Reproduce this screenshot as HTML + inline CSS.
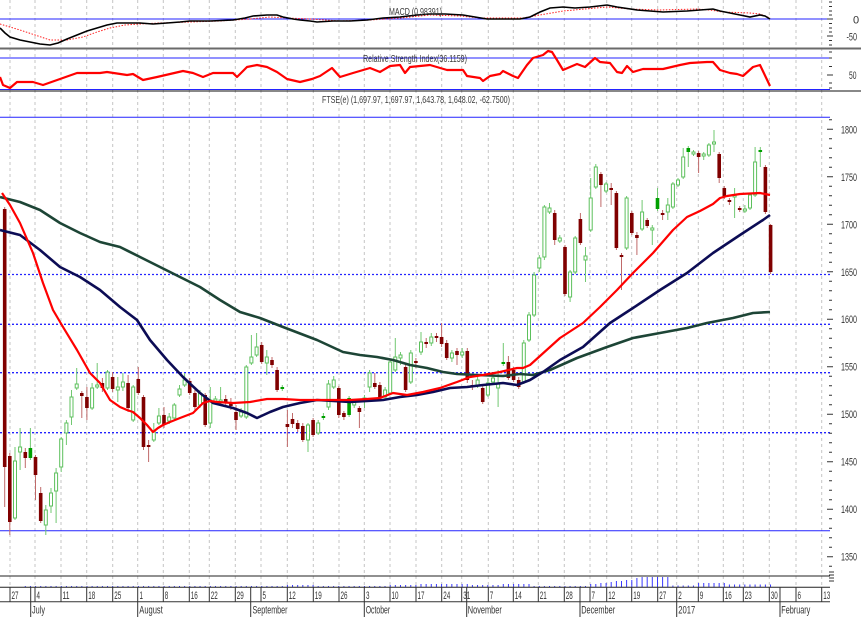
<!DOCTYPE html>
<html><head><meta charset="utf-8"><style>
html,body{margin:0;padding:0;background:#fff;}
svg{display:block;font-family:"Liberation Sans",sans-serif;}
</style></head><body>
<svg width="861" height="617" viewBox="0 0 861 617" xmlns="http://www.w3.org/2000/svg">
<rect width="861" height="617" fill="#fff"/>
<!-- vertical gridlines -->
<g stroke="#c4c4c4" stroke-width="1" stroke-dasharray="3 3">
<path d="M10 0V587M35 0V587M61 0V587M86.7 0V587M112.7 0V587M137.7 0V587M163.3 0V587M189.3 0V587M209.3 0V587M235.3 0V587M261 0V587M287.3 0V587M313.3 0V587M339 0V587M364.3 0V587M390 0V587M416 0V587M441.7 0V587M461.7 0V587M488.3 0V587M513.3 0V587M538.3 0V587M564.3 0V587M590 0V587M606.7 0V587M631.7 0V587M657.7 0V587M676.7 0V587M698.3 0V587M723.3 0V587M743.3 0V587M769.3 0V587M796 0V587M821.7 0V587"/>
</g>
<!-- MACD panel -->
<line x1="0" y1="19" x2="830" y2="19" stroke="#2323ff" stroke-width="1"/>
<polyline fill="none" stroke="#ff2020" stroke-width="1" stroke-dasharray="1.5 1.5" points="0,24 10,27 20,30 35,35 50,40 67,40 83,37 97,32 110,28 125,25 140,24 160,23 190,22 220,21 250,19 270,17 287,18 310,19 340,21 370,20 400,18 430,15 460,16 480,18 523,18 540,15 563,11 585,9 607,7 630,9 660,10 697,9 710,10 723,12 750,13 760,14 770,18"/>
<polyline fill="none" stroke="#000" stroke-width="1.6" points="0,28 5,33 10,37 20,40 30,42 40,44 50,45 58,43 67,39 77,35 87,31 97,28 107,25 117,23 127,23 140,23 153,24 167,23 180,22 190,21 210,21 233,20 245,18 253,16 267,15 277,15 283,17 293,19 300,20 310,21 317,22 333,21 350,21 367,20 383,18 400,17 417,15 430,14 445,14 463,15 475,17 487,19 500,19 520,19 530,17 540,12 550,8 563,7 575,8 590,7 607,5 617,7 637,10 650,11 663,12 687,11 700,10 713,9 720,11 730,13 740,15 750,17 760,15 765,16 770,19"/>
<text x="389" y="15" font-size="10.5" fill="#3a3a3a" textLength="53" lengthAdjust="spacingAndGlyphs">MACD (0.98391)</text>
<line x1="0" y1="48.5" x2="861" y2="48.5" stroke="#6a6a6a" stroke-width="2"/>
<!-- RSI panel -->
<line x1="0" y1="58" x2="830" y2="58" stroke="#2323ff" stroke-width="1"/>
<line x1="0" y1="89.5" x2="830" y2="89.5" stroke="#2323ff" stroke-width="1"/>
<line x1="0" y1="91" x2="861" y2="91" stroke="#111" stroke-width="1"/>
<polyline fill="none" stroke="#ff0000" stroke-width="2.2" stroke-linejoin="round" points="0,77 3,85 10,88 17,82 33,82 43,85 60,79 77,73 100,73 107,72 127,75 133,74 143,80 157,77 183,71 193,73 203,77 213,73 233,73 237,77 247,67 257,65 267,67 277,72 287,79 300,82 312,79 320,76 332,68 340,77 353,73 370,68 380,72 390,66 400,65 405,73 410,67 420,66 430,65 447,70 463,70 467,76 480,78 483,81 490,76 500,74 503,71 513,76 518,78 527,65 533,58 543,55 548,51 552,52 557,60 563,70 577,64 585,67 595,58 600,62 610,63 617,72 622,73 627,66 633,72 643,69 663,69 680,65 690,63 707,62 713,62 720,70 730,73 737,74 743,76 753,67 760,65 770,86"/>
<text x="363" y="62" font-size="10.5" fill="#3a3a3a" textLength="104" lengthAdjust="spacingAndGlyphs">Relative Strength Index(36.1159)</text>
<!-- Price panel -->
<text x="322" y="103" font-size="10.5" fill="#3a3a3a" textLength="188" lengthAdjust="spacingAndGlyphs">FTSE(e) (1,697.97, 1,697.97, 1,643.78, 1,648.02, -62.7500)</text>
<line x1="0" y1="117.3" x2="830" y2="117.3" stroke="#2323ff" stroke-width="1"/>
<line x1="0" y1="530.7" x2="830" y2="530.7" stroke="#2323ff" stroke-width="1"/>
<g stroke="#2323ff" stroke-width="1.3" stroke-dasharray="2 2">
<line x1="0" y1="274.5" x2="830" y2="274.5"/>
<line x1="0" y1="324.3" x2="830" y2="324.3"/>
<line x1="0" y1="372.7" x2="830" y2="372.7"/>
<line x1="0" y1="432.7" x2="830" y2="432.7"/>
</g>
<!-- wicks -->
<path fill="none" stroke="#c06a6a" stroke-width="1" d="M4.7 207V507M9.8 453V535M25.3 448V468M35.5 455V500M40.7 487V523M81.8 391V418M86.9 387V420M102.4 378V392M112.6 372V392M128.1 375V412M138.3 367V395M143.5 395V450M148.6 440V462M164 407V428M189.7 378V395M194.9 390V410M205.2 393V427M225.7 395V406M230.9 398V410M236 405V430M261.7 342V364M272 357V368M277.1 367V392M287.4 410V447M292.5 413V428M297.7 420V432M302.8 423V442M313.1 418V437M338.8 386V418M343.9 411V420M359.4 406V428M374.8 373V389M379.9 382V400M405.6 365V392M415.9 358V368M426.2 338V348M436.5 333V342M441.6 323V347M446.7 340V360M457 348V365M467.3 348V383M472.4 380V390M482.7 385V404M508.4 356V380M513.6 367V382M518.7 377V389M554.7 210V245M565 245V296M580.4 213V245M600.9 172V207M611.2 183V205M616.4 191V250M621.5 253V290M631.8 211V235M636.9 232V255M647.2 218V228M662.6 210V220M698.6 151V173M719.2 152V183M724.3 186V199M729.4 198V205M739.7 206V212M765.4 165V214M770.6 224V274"/>
<path fill="none" stroke="#72c872" stroke-width="1" d="M15 447V520M20.1 428V470M30.4 428V460M45.8 505V535M51 488V513M56.1 468V523M61.2 437V472M66.4 420V445M71.5 390V425M76.7 368V390M92.1 383V410M97.2 363V389M107.5 370V390M117.8 377V402M122.9 373V391M133.2 385V422M153.8 423V442M158.9 408V425M169.2 413V424M174.3 403V420M179.5 385V397M184.6 373V387M200 390V408M210.3 387V428M215.4 396V404M220.6 387V405M241.1 408V418M246.3 365V419M251.4 335V365M256.6 333V357M266.8 350V375M282.3 385V391M308 423V452M318.2 420V435M323.4 413V420M328.5 380V410M333.7 376V389M349.1 396V417M354.2 399V408M364.5 395V408M369.6 370V392M385.1 387V399M390.2 360V395M395.3 338V372M400.5 352V365M410.8 350V384M421 332V355M431.3 333V346M451.9 350V362M462.2 348V358M477.6 377V388M487.9 378V397M493 375V385M498.1 370V407M503.3 343V366M523.8 340V384M529 312V342M534.1 272V317M539.3 255V272M544.4 205V260M549.5 203V214M559.8 235V243M570.1 270V302M575.2 236V274M585.5 247V282M590.7 178V232M595.8 164V189M606.1 182V193M626.6 196V250M642.1 200V231M652.3 225V245M657.5 188V211M667.8 198V220M672.9 182V209M678 178V187M683.2 148V179M688.3 146V167M693.5 150V156M703.7 152V160M708.9 143V157M714 130V152M734.6 188V218M744.9 205V213M750 193V210M755.1 147V197M760.3 147V167"/>
<!-- red bodies -->
<path fill="#800000" d="M2.9 209h3.6V467h-3.6zM8 456h3.6V522h-3.6zM23.5 452h3.6V458h-3.6zM33.7 457h3.6V475h-3.6zM38.9 493h3.6V521h-3.6zM80 393h3.6V396h-3.6zM85.1 397h3.6V408h-3.6zM100.6 383h3.6V388h-3.6zM110.8 377h3.6V389h-3.6zM126.3 383h3.6V408h-3.6zM136.5 379h3.6V393h-3.6zM141.7 397h3.6V447h-3.6zM146.8 445h3.6V447h-3.6zM162.2 415h3.6V425h-3.6zM187.9 381h3.6V393h-3.6zM193.1 393h3.6V407h-3.6zM203.4 395h3.6V425h-3.6zM223.9 399h3.6V403h-3.6zM229.1 402h3.6V406h-3.6zM234.2 412h3.6V420h-3.6zM259.9 345h3.6V362h-3.6zM270.2 360h3.6V365h-3.6zM275.3 370h3.6V390h-3.6zM285.6 424h3.6V427h-3.6zM290.7 419h3.6V424h-3.6zM295.9 423h3.6V429h-3.6zM301 426h3.6V440h-3.6zM311.3 420h3.6V435h-3.6zM337 388h3.6V415h-3.6zM342.1 413h3.6V417h-3.6zM357.6 408h3.6V412h-3.6zM373 383h3.6V387h-3.6zM378.1 385h3.6V397h-3.6zM403.8 367h3.6V390h-3.6zM414.1 361h3.6V363h-3.6zM424.4 342h3.6V344h-3.6zM434.7 336h3.6V338h-3.6zM439.8 337h3.6V344h-3.6zM444.9 343h3.6V358h-3.6zM455.2 351h3.6V355h-3.6zM465.5 351h3.6V380h-3.6zM470.6 385h3.6V387h-3.6zM480.9 388h3.6V402h-3.6zM506.6 362h3.6V378h-3.6zM511.8 370h3.6V380h-3.6zM516.9 380h3.6V387h-3.6zM552.9 213h3.6V240h-3.6zM563.2 247h3.6V294h-3.6zM578.6 219h3.6V243h-3.6zM599.1 174h3.6V185h-3.6zM609.4 188h3.6V190h-3.6zM614.6 193h3.6V248h-3.6zM619.7 255h3.6V257h-3.6zM630 213h3.6V233h-3.6zM635.1 235h3.6V238h-3.6zM645.4 220h3.6V226h-3.6zM660.8 213h3.6V215h-3.6zM696.8 153h3.6V157h-3.6zM717.4 154h3.6V178h-3.6zM722.5 188h3.6V197h-3.6zM727.6 200h3.6V202h-3.6zM737.9 208h3.6V210h-3.6zM763.6 167h3.6V212h-3.6zM768.8 225h3.6V272h-3.6z"/>
<!-- green hollow bodies -->
<path fill="#fff" stroke="#5cc05c" stroke-width="1" d="M13.5 461h3V518h-3zM18.6 447h3V452h-3zM44.3 510h3V525h-3zM49.5 493h3V506h-3zM54.6 473h3V491h-3zM59.7 439h3V467h-3zM64.9 423h3V433h-3zM70 397h3V417h-3zM75.2 384h3V388h-3zM90.6 388h3V408h-3zM95.7 385h3V387h-3zM106 372h3V388h-3zM116.3 387h3V390h-3zM121.4 382h3V387h-3zM131.7 387h3V420h-3zM152.3 432h3V440h-3zM157.4 416h3V423h-3zM167.7 417h3V421h-3zM172.8 405h3V418h-3zM178 389h3V395h-3zM183.1 380h3V385h-3zM198.5 393h3V405h-3zM208.8 400h3V423h-3zM213.9 399h3V402h-3zM219.1 400h3V403h-3zM239.6 412h3V416h-3zM244.8 367h3V417h-3zM249.9 357h3V363h-3zM255.1 347h3V355h-3zM265.3 357h3V363h-3zM306.5 425h3V440h-3zM316.7 423h3V433h-3zM327 384h3V407h-3zM332.2 380h3V387h-3zM352.7 402h3V405h-3zM363 398h3V400h-3zM368.1 373h3V387h-3zM383.6 390h3V397h-3zM388.7 362h3V393h-3zM393.8 357h3V370h-3zM399 355h3V358h-3zM409.3 353h3V382h-3zM419.5 342h3V352h-3zM429.8 337h3V343h-3zM450.4 353h3V358h-3zM460.7 352h3V355h-3zM476.1 380h3V385h-3zM486.4 383h3V395h-3zM491.5 378h3V382h-3zM496.6 383h3V388h-3zM522.3 343h3V382h-3zM527.5 315h3V340h-3zM532.6 275h3V315h-3zM537.8 258h3V268h-3zM542.9 207h3V257h-3zM548 208h3V212h-3zM558.3 238h3V241h-3zM568.6 272h3V297h-3zM573.7 238h3V272h-3zM584 256h3V260h-3zM589.2 198h3V230h-3zM594.3 167h3V187h-3zM604.6 184h3V191h-3zM625.1 198h3V248h-3zM640.6 212h3V229h-3zM650.8 228h3V230h-3zM666.3 205h3V212h-3zM671.4 184h3V207h-3zM676.5 180h3V185h-3zM681.7 157h3V177h-3zM692 152h3V154h-3zM702.2 154h3V156h-3zM707.4 145h3V155h-3zM712.5 142h3V144h-3zM733.1 195h3V197h-3zM743.4 209h3V211h-3zM748.5 195h3V208h-3zM753.6 162h3V195h-3z"/>
<!-- filled green bodies -->
<path fill="#00a000" d="M28.6 448h3.6V458h-3.6zM280.5 387h3.6V389h-3.6zM321.6 416h3.6V418h-3.6zM347.3 398h3.6V415h-3.6zM501.5 362h3.6V364h-3.6zM655.7 198h3.6V209h-3.6zM686.5 148h3.6V152h-3.6zM758.5 150h3.6V152h-3.6z"/>
<!-- moving averages -->
<polyline fill="none" stroke="#1d4536" stroke-width="2.6" stroke-linejoin="round" points="0,197 20,202 40,210 60,223 80,233 100,242 120,247 140,257 160,267 180,277 200,287 220,300 240,312 260,318 283,327 317,340 343,352 360,355 377,357 393,360 410,365 427,368 443,372 457,374 477,375 503,376 520,374 533,375 550,370 577,358 607,347 633,338 660,333 687,328 707,323 733,318 753,313 770,312"/>
<polyline fill="none" stroke="#0c0c55" stroke-width="2.6" stroke-linejoin="round" points="0,230 20,235 40,250 60,267 80,277 100,290 120,307 137,320 150,340 167,360 183,377 200,393 213,403 233,408 247,413 257,418 270,412 283,407 300,403 317,400 350,402 383,400 400,397 417,395 433,392 450,388 467,387 483,385 503,383 517,385 530,380 543,372 560,360 583,347 610,323 633,308 660,290 687,273 713,253 740,235 763,220 770,215"/>
<polyline fill="none" stroke="#ff0000" stroke-width="2.2" stroke-linejoin="round" points="2,193 10,205 20,223 33,253 43,283 53,310 63,327 77,350 90,373 100,383 110,400 120,407 127,410 133,412 140,418 147,425 153,432 158,428 163,425 170,422 180,418 193,413 203,403 210,401 217,402 233,403 250,402 267,399 283,399 300,400 317,400 350,400 367,399 380,398 393,393 407,395 423,392 440,388 457,382 470,377 483,375 500,372 517,368 523,368 530,365 540,356 550,347 560,338 583,323 600,307 617,290 633,273 653,253 673,230 687,217 700,211 713,204 720,198 727,196 740,194 760,193 770,195"/>
<!-- right axis ticks -->
<path fill="none" stroke="#333" stroke-width="1" d="M829 119.8h3M827 129.3h6M829 138.8h3M829 148.3h3M829 157.8h3M829 167.3h3M827 176.8h6M829 186.3h3M829 195.8h3M829 205.3h3M829 214.8h3M827 224.3h6M829 233.7h3M829 243.3h3M829 252.8h3M829 262.3h3M827 271.8h6M829 281.3h3M829 290.7h3M829 300.2h3M829 309.7h3M827 319.2h6M829 328.7h3M829 338.2h3M829 347.7h3M829 357.2h3M827 366.7h6M829 376.2h3M829 385.7h3M829 395.2h3M829 404.7h3M827 414.2h6M829 423.7h3M829 433.2h3M829 442.7h3M829 452.2h3M827 461.7h6M829 471.2h3M829 480.7h3M829 490.2h3M829 499.7h3M827 509.2h6M829 518.7h3M829 528.2h3M829 537.7h3M829 547.2h3M827 556.7h6M829 566.2h3M829 572h5M829 575h5M829 578h5M829 581h5M829 2h3M829 6.5h3M829 11h3M829 15h3M827 19h6M829 23.5h3M829 28h3M829 32h3M827 36h6M829 40.5h3M829 45h3M829 52h3M829 58h3M829 66.5h3M827 75h6M829 83h3M829 88h3"/>
<g font-size="11" fill="#333">
<text x="853" y="23.5">0</text>
<text x="846.5" y="40.5" textLength="10.5" lengthAdjust="spacingAndGlyphs">-50</text>
<text x="849" y="79" textLength="7.5" lengthAdjust="spacingAndGlyphs">50</text>
<text x="841" y="133.3" textLength="16" lengthAdjust="spacingAndGlyphs">1800</text>
<text x="841" y="180.8" textLength="16" lengthAdjust="spacingAndGlyphs">1750</text>
<text x="841" y="228.3" textLength="16" lengthAdjust="spacingAndGlyphs">1700</text>
<text x="841" y="275.8" textLength="16" lengthAdjust="spacingAndGlyphs">1650</text>
<text x="841" y="323.2" textLength="16" lengthAdjust="spacingAndGlyphs">1600</text>
<text x="841" y="370.7" textLength="16" lengthAdjust="spacingAndGlyphs">1550</text>
<text x="841" y="418.2" textLength="16" lengthAdjust="spacingAndGlyphs">1500</text>
<text x="841" y="465.7" textLength="16" lengthAdjust="spacingAndGlyphs">1450</text>
<text x="841" y="513.2" textLength="16" lengthAdjust="spacingAndGlyphs">1400</text>
<text x="841" y="560.7" textLength="16" lengthAdjust="spacingAndGlyphs">1350</text>
</g>
<!-- volume bars -->
<g stroke="#3a3aff" fill="none">
<line x1="24.8" y1="586.5" x2="282.8" y2="586.5" stroke-width="1" stroke-dasharray="1 4.14"/>
<line x1="286.9" y1="586" x2="313.6" y2="586" stroke-width="2" stroke-dasharray="1 4.14"/>
<line x1="317.7" y1="586.5" x2="385.6" y2="586.5" stroke-width="1" stroke-dasharray="1 4.14"/>
<line x1="389.7" y1="586" x2="416.4" y2="586" stroke-width="2" stroke-dasharray="1 4.14"/>
<line x1="420.5" y1="585.5" x2="467.8" y2="585.5" stroke-width="3" stroke-dasharray="1 4.14"/>
<line x1="471.9" y1="586" x2="498.6" y2="586" stroke-width="2" stroke-dasharray="1 4.14"/>
<line x1="502.8" y1="585.5" x2="529.5" y2="585.5" stroke-width="3" stroke-dasharray="1 4.14"/>
<line x1="533.6" y1="586.5" x2="586" y2="586.5" stroke-width="1" stroke-dasharray="1 4.14"/>
<line x1="672.4" y1="586.2" x2="694" y2="586.2" stroke-width="1.5" stroke-dasharray="1 4.14"/>
<line x1="698.1" y1="585" x2="724.8" y2="585" stroke-width="4" stroke-dasharray="1 4.14"/>
<line x1="728.9" y1="585.7" x2="771.1" y2="585.7" stroke-width="2.5" stroke-dasharray="1 4.14"/>
<path stroke-width="1" d="M590.7 587v-3M595.8 587v-3M600.9 587v-4M606.1 587v-4M611.2 587v-5M616.4 587v-6M621.5 587v-6M626.6 587v-7M631.8 587v-7M636.9 587v-9M642.1 587v-10M647.2 587v-10M652.3 587v-10M657.5 587v-10M662.6 587v-10M667.8 587v-10"/>
</g>
<!-- bottom axis -->
<line x1="0" y1="576" x2="830" y2="576" stroke="#222" stroke-width="1"/>
<line x1="0" y1="587.3" x2="830" y2="587.3" stroke="#222" stroke-width="1"/>
<line x1="0" y1="601.7" x2="830" y2="601.7" stroke="#333" stroke-width="1"/>
<path fill="none" stroke="#333" stroke-width="1" d="M10 587V602M35 587V602M61 587V602M86.7 587V602M112.7 587V602M163.3 587V602M189.3 587V602M209.3 587V602M235.3 587V602M261 587V602M287.3 587V602M313.3 587V602M339 587V602M390 587V602M416 587V602M441.7 587V602M461.7 587V602M488.3 587V602M513.3 587V602M538.3 587V602M564.3 587V602M590 587V602M606.7 587V602M631.7 587V602M657.7 587V602M698.3 587V602M723.3 587V602M743.3 587V602M769.3 587V602M796 587V602M821.7 587V602M30.7 587V617M137.7 587V617M250.7 587V617M364.3 587V617M466.7 587V617M580 587V617M676.7 587V617M780 587V617"/>
<g font-size="11" fill="#333">
<text x="11.5" y="599" textLength="7" lengthAdjust="spacingAndGlyphs">27</text>
<text x="36.5" y="599" textLength="3.5" lengthAdjust="spacingAndGlyphs">4</text>
<text x="62.5" y="599" textLength="7" lengthAdjust="spacingAndGlyphs">11</text>
<text x="88.2" y="599" textLength="7" lengthAdjust="spacingAndGlyphs">18</text>
<text x="114.2" y="599" textLength="7" lengthAdjust="spacingAndGlyphs">25</text>
<text x="139.5" y="599" textLength="3.5" lengthAdjust="spacingAndGlyphs">1</text>
<text x="164.8" y="599" textLength="3.5" lengthAdjust="spacingAndGlyphs">8</text>
<text x="190.8" y="599" textLength="7" lengthAdjust="spacingAndGlyphs">16</text>
<text x="210.8" y="599" textLength="7" lengthAdjust="spacingAndGlyphs">22</text>
<text x="236.8" y="599" textLength="7" lengthAdjust="spacingAndGlyphs">29</text>
<text x="262.5" y="599" textLength="3.5" lengthAdjust="spacingAndGlyphs">5</text>
<text x="288.8" y="599" textLength="7" lengthAdjust="spacingAndGlyphs">12</text>
<text x="314.8" y="599" textLength="7" lengthAdjust="spacingAndGlyphs">19</text>
<text x="340.5" y="599" textLength="7" lengthAdjust="spacingAndGlyphs">26</text>
<text x="366" y="599" textLength="3.5" lengthAdjust="spacingAndGlyphs">3</text>
<text x="391.5" y="599" textLength="7" lengthAdjust="spacingAndGlyphs">10</text>
<text x="417.5" y="599" textLength="7" lengthAdjust="spacingAndGlyphs">17</text>
<text x="443.2" y="599" textLength="7" lengthAdjust="spacingAndGlyphs">24</text>
<text x="463.2" y="599" textLength="7" lengthAdjust="spacingAndGlyphs">31</text>
<text x="489.8" y="599" textLength="3.5" lengthAdjust="spacingAndGlyphs">7</text>
<text x="514.8" y="599" textLength="7" lengthAdjust="spacingAndGlyphs">14</text>
<text x="539.8" y="599" textLength="7" lengthAdjust="spacingAndGlyphs">21</text>
<text x="565.8" y="599" textLength="7" lengthAdjust="spacingAndGlyphs">28</text>
<text x="591.5" y="599" textLength="3.5" lengthAdjust="spacingAndGlyphs">7</text>
<text x="608.2" y="599" textLength="7" lengthAdjust="spacingAndGlyphs">12</text>
<text x="633.2" y="599" textLength="7" lengthAdjust="spacingAndGlyphs">19</text>
<text x="659.2" y="599" textLength="7" lengthAdjust="spacingAndGlyphs">27</text>
<text x="678.2" y="599" textLength="3.5" lengthAdjust="spacingAndGlyphs">2</text>
<text x="699.8" y="599" textLength="3.5" lengthAdjust="spacingAndGlyphs">9</text>
<text x="724.8" y="599" textLength="7" lengthAdjust="spacingAndGlyphs">16</text>
<text x="744.8" y="599" textLength="7" lengthAdjust="spacingAndGlyphs">23</text>
<text x="770.8" y="599" textLength="7" lengthAdjust="spacingAndGlyphs">30</text>
<text x="797.5" y="599" textLength="3.5" lengthAdjust="spacingAndGlyphs">6</text>
<text x="823.2" y="599" textLength="7" lengthAdjust="spacingAndGlyphs">13</text>
<text x="32" y="613.5" textLength="13" lengthAdjust="spacingAndGlyphs">July</text>
<text x="139.3" y="613.5" textLength="23.5" lengthAdjust="spacingAndGlyphs">August</text>
<text x="252.5" y="613.5" textLength="35" lengthAdjust="spacingAndGlyphs">September</text>
<text x="365.7" y="613.5" textLength="24.5" lengthAdjust="spacingAndGlyphs">October</text>
<text x="467.8" y="613.5" textLength="34" lengthAdjust="spacingAndGlyphs">November</text>
<text x="581.2" y="613.5" textLength="34" lengthAdjust="spacingAndGlyphs">December</text>
<text x="678.3" y="613.5" textLength="17" lengthAdjust="spacingAndGlyphs">2017</text>
<text x="781.3" y="613.5" textLength="29" lengthAdjust="spacingAndGlyphs">February</text>
</g>
</svg>
</body></html>
